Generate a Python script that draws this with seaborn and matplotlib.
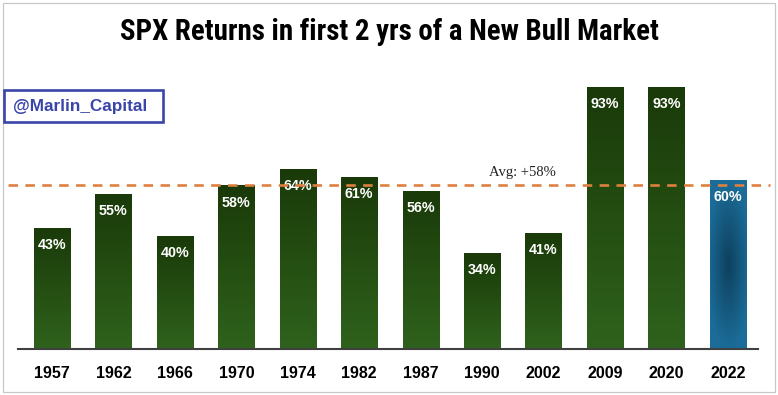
import numpy as np
import pandas as pd
import matplotlib
matplotlib.use("Agg")
import matplotlib.pyplot as plt
import matplotlib.colors as mcolors
from matplotlib.patches import Rectangle
from matplotlib import font_manager as fm
import seaborn as sns

# ---- data ----
years = ["1957", "1962", "1966", "1970", "1974", "1982", "1987", "1990", "2002", "2009", "2020", "2022"]
returns = [43, 55, 40, 58, 64, 61, 56, 34, 41, 93, 93, 60]
avg_value = 58
avg_label = "Avg: +58%"
title = "SPX Returns in first 2 yrs of a New Bull Market"
watermark = "@Marlin_Capital"

sns.set_theme(style="white")
plt.rcParams["font.family"] = ["Liberation Sans", "DejaVu Sans"]

names = {f.name for f in fm.fontManager.ttflist}
title_fams = [n for n in ["Liberation Sans Narrow", "DejaVu Sans Condensed", "Roboto Condensed",
                          "Open Sans Condensed"] if n in names]
if title_fams:
    title_kw = dict(family=title_fams + ["DejaVu Sans"], fontsize=20.8)
else:
    title_kw = dict(family=["Liberation Sans", "DejaVu Sans"], fontsize=17)

W, H = 778, 395
fig = plt.figure(figsize=(W / 100, H / 100), dpi=100)
fig.patch.set_facecolor("white")

ax_left, ax_right = 18, 758
ax_base, ax_top = 349, 67
ax = fig.add_axes([ax_left / W, (H - ax_base) / H, (ax_right - ax_left) / W, (ax_base - ax_top) / H])

df = pd.DataFrame({"year": years, "ret": returns})
pal = {y: ("#1a6a94" if y == "2022" else "#2a5a18") for y in years}
sns.barplot(data=df, x="year", y="ret", hue="year", palette=pal, order=years,
            width=0.59, legend=False, ax=ax, saturation=1, linewidth=0)

ax.set_xlim(-0.553, 11.49)
ax.set_ylim(0, 100)

g_top = np.array(mcolors.to_rgb("#1a3a09"))
g_bot = np.array(mcolors.to_rgb("#2f621c"))
b_edge = np.array(mcolors.to_rgb("#1b6c98"))
b_mid = np.array(mcolors.to_rgb("#0e405e"))

for cont, y in zip(ax.containers, years):
    for patch in cont:
        x0, y0 = patch.get_x(), patch.get_y()
        w, h = patch.get_width(), patch.get_height()
        if y == "2022":
            ny, nx = 120, 40
            yy, xx = np.mgrid[0:1:ny * 1j, 0:1:nx * 1j]
            d = np.sqrt(((xx - 0.5) / 0.6) ** 2 + ((yy - 0.5) / 0.5) ** 2)
            t = np.clip(d, 0, 1)[..., None]
            img = b_mid * (1 - t) + b_edge * t
        else:
            t = np.linspace(0, 1, 100)[:, None, None]
            img = g_bot * (1 - t) + g_top * t
        im = ax.imshow(img, extent=[x0, x0 + w, y0, y0 + h], origin="lower",
                       aspect="auto", zorder=patch.get_zorder() + 0.1, interpolation="bilinear")
        im.set_clip_path(patch)
        ax.annotate(f"{int(round(h))}%", (x0 + w / 2, y0 + h), xytext=(0, -12.3),
                    textcoords="offset points", ha="center", va="center",
                    color="white", fontsize=10.3, fontweight="bold", zorder=5)

ax.set_xlim(-0.553, 11.49)
ax.set_ylim(0, 100)

ax.plot([-0.72, 11.68], [avg_value, avg_value], color="#dd8040", lw=1.9,
        linestyle=(0, (3.6, 2.8)), clip_on=False, zorder=6)
ax.text(7.65, 62.6, avg_label, family=["Liberation Serif", "DejaVu Serif"],
        fontsize=10.5, color="#222222", ha="center", va="center", zorder=6)

for s in ["top", "right", "left"]:
    ax.spines[s].set_visible(False)
ax.spines["bottom"].set_color("#404040")
ax.spines["bottom"].set_linewidth(1.5)
ax.set_yticks([])
ax.set_xlabel("")
ax.set_ylabel("")
ax.tick_params(axis="x", length=0, pad=12.5, labelsize=11.5, labelcolor="black")
for lbl in ax.get_xticklabels():
    lbl.set_fontweight("bold")
ax.set_facecolor("none")

fig.text(389 / W, 1 - 32 / H, title, ha="center", va="center",
         fontweight="bold", color="black", **title_kw)

fig.patches.append(Rectangle((4 / W, 1 - 122 / H), 159 / W, 32 / H, transform=fig.transFigure,
                             fill=False, edgecolor="#3a45aa", lw=1.9, zorder=10))
fig.text(13 / W, 1 - 106.5 / H, watermark, ha="left", va="center", fontsize=12.3,
         fontweight="bold", color="#3a45aa", zorder=11)

fig.patches.append(Rectangle((3 / W, 1 - 392 / H), 772 / W, 389 / H, transform=fig.transFigure,
                             fill=False, edgecolor="#c8c8c8", lw=0.9, zorder=0))

fig.savefig("out.png", dpi=100, facecolor="white")
